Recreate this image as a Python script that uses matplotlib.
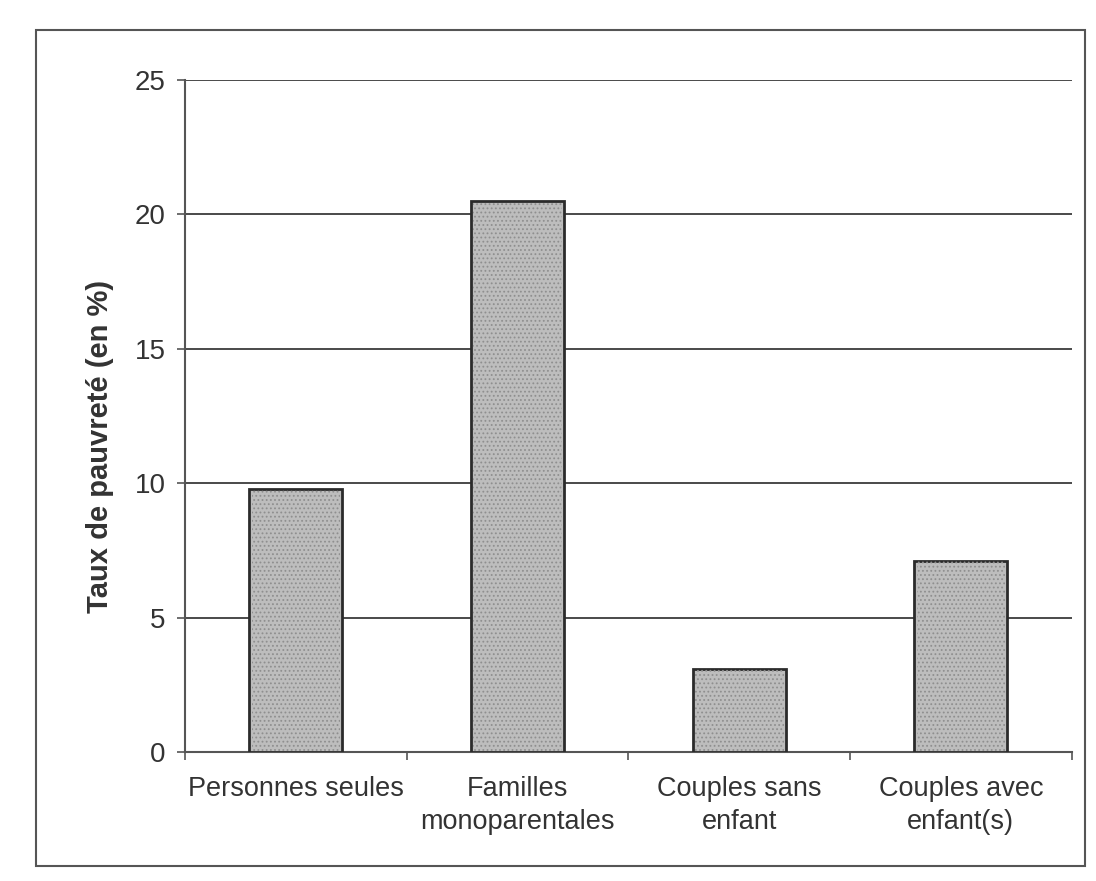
import matplotlib.pyplot as plt
from matplotlib.patches import Rectangle

categories = ["Personnes seules", "Familles\nmonoparentales",
              "Couples sans\nenfant", "Couples avec\nenfant(s)"]
taux = [9.8, 20.5, 3.1, 7.1]
yticks = [0, 5, 10, 15, 20, 25]

plt.rcParams['font.family'] = ['Liberation Sans', 'DejaVu Sans']
plt.rcParams['hatch.linewidth'] = 0.8

fig = plt.figure(figsize=(10.96, 8.81), dpi=100)
# cadre autour du graphique
fig.patches.append(Rectangle((36 / 1096, 1 - 866 / 881), (1085 - 36) / 1096, (866 - 30) / 881,
                             transform=fig.transFigure, fill=False,
                             edgecolor='#555555', linewidth=1.5))

ax = fig.add_axes([0.1688, 0.1464, 0.809, 0.7628])
x = range(len(categories))
ax.bar(x, taux, width=0.42, color='#bdbdbd', edgecolor='#2b2b2b', linewidth=2, zorder=3)
# texture pointillee
ax.bar(x, taux, width=0.40, fill=False, edgecolor='#8f8f8f', linewidth=0,
       hatch='....', zorder=4)

ax.set_xlim(-0.5, len(categories) - 0.5)
ax.set_ylim(0, 25)
ax.set_yticks(yticks)
ax.yaxis.grid(True, color='#4a4a4a', linewidth=1.4)
ax.set_axisbelow(True)

ax.set_xticks(list(x))
ax.set_xticklabels(categories, fontsize=19.5, color='#333333', linespacing=1.35)
ax.set_xticks([i - 0.5 for i in range(len(categories) + 1)], minor=True)
ax.tick_params(axis='x', which='major', length=0, pad=17)
ax.tick_params(axis='x', which='minor', length=6, width=1.2, color='#555555')
ax.tick_params(axis='y', labelsize=20, labelcolor='#333333', length=6, width=1.2,
               color='#555555', pad=8)

for side in ['top', 'right']:
    ax.spines[side].set_visible(False)
for side in ['left', 'bottom']:
    ax.spines[side].set_color('#555555')
    ax.spines[side].set_linewidth(1.5)

ax.set_ylabel("Taux de pauvreté (en %)", fontsize=21, fontweight='bold',
              color='#333333')
ax.yaxis.set_label_coords(-0.08, 0.455)

fig.savefig("out.png", dpi=100)
